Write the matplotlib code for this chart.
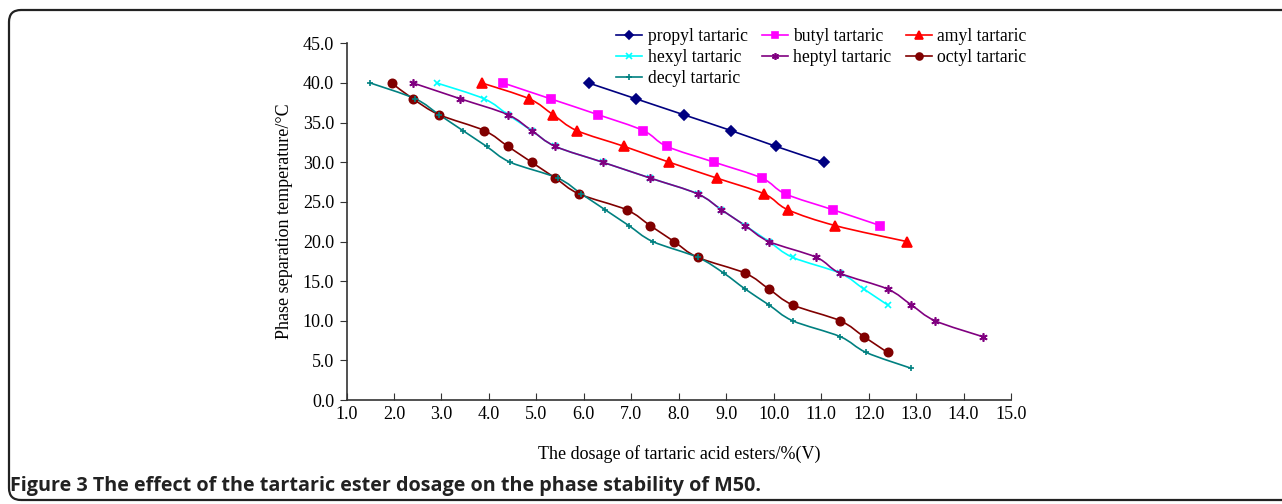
import numpy as np
import matplotlib
matplotlib.use("Agg")
import matplotlib.pyplot as plt
from matplotlib.path import Path
from matplotlib.patches import PathPatch, FancyBboxPatch
from matplotlib.lines import Line2D

plt.rcParams['font.family'] = ['Liberation Serif', 'DejaVu Serif']

# data (dosage %V, phase separation temperature degC)
propyl_x = [6.1, 7.1, 8.1, 9.1, 10.05, 11.05]
propyl_y = [40, 38, 36, 34, 32, 30]
butyl_x = [4.3, 5.3, 6.3, 7.25, 7.75, 8.75, 9.75, 10.25, 11.25, 12.25]
butyl_y = [40, 38, 36, 34, 32, 30, 28, 26, 24, 22]
amyl_x = [3.85, 4.85, 5.35, 5.85, 6.85, 7.8, 8.8, 9.8, 10.3, 11.3, 12.8]
amyl_y = [40, 38, 36, 34, 32, 30, 28, 26, 24, 22, 20]
hexyl_x = [2.9, 3.9, 4.4, 4.9, 5.4, 6.4, 7.4, 8.4, 8.9, 9.4, 9.9, 10.4, 11.4, 11.9, 12.4]
hexyl_y = [40, 38, 36, 34, 32, 30, 28, 26, 24, 22, 20, 18, 16, 14, 12]
heptyl_x = [2.4, 3.4, 4.4, 4.9, 5.4, 6.4, 7.4, 8.4, 8.9, 9.4, 9.9, 10.9, 11.4, 12.4, 12.9, 13.4, 14.4]
heptyl_y = [40, 38, 36, 34, 32, 30, 28, 26, 24, 22, 20, 18, 16, 14, 12, 10, 8]
octyl_x = [1.95, 2.4, 2.95, 3.9, 4.4, 4.9, 5.4, 5.9, 6.9, 7.4, 7.9, 8.4, 9.4, 9.9, 10.4, 11.4, 11.9, 12.4]
octyl_y = [40, 38, 36, 34, 32, 30, 28, 26, 24, 22, 20, 18, 16, 14, 12, 10, 8, 6]
decyl_x = [1.5, 2.45, 2.95, 3.45, 3.95, 4.45, 5.45, 5.95, 6.45, 6.95, 7.45, 8.4, 8.95, 9.4, 9.9, 10.4, 11.4, 11.95, 12.9]
decyl_y = [40, 38, 36, 34, 32, 30, 28, 26, 24, 22, 20, 18, 16, 14, 12, 10, 8, 6, 4]

series = [
    ('propyl tartaric', propyl_x, propyl_y, '#000080', 'D', 5),
    ('butyl tartaric', butyl_x, butyl_y, '#FF00FF', 's', 6),
    ('amyl tartaric', amyl_x, amyl_y, '#FF0000', '^', 7),
    ('hexyl tartaric', hexyl_x, hexyl_y, '#00FFFF', 'x', 5),
    ('heptyl tartaric', heptyl_x, heptyl_y, '#800080', (6, 2, 0), 6),
    ('octyl tartaric', octyl_x, octyl_y, '#800000', 'o', 6),
    ('decyl tartaric', decyl_x, decyl_y, '#008080', '+', 5),
]


def smooth_path(x, y):
    # Excel-like smoothed line: cubic bezier through the points
    pts = np.column_stack([x, y]).astype(float)
    n = len(pts)
    verts = [pts[0]]
    codes = [Path.MOVETO]
    for i in range(n - 1):
        p0 = pts[i - 1] if i > 0 else pts[i]
        p1 = pts[i]
        p2 = pts[i + 1]
        p3 = pts[i + 2] if i + 2 < n else pts[i + 1]
        verts += [p1 + (p2 - p0) / 6, p2 - (p3 - p1) / 6, p2]
        codes += [Path.CURVE4] * 3
    return Path(verts, codes)


fig = plt.figure(figsize=(12.82, 5.04), dpi=100)
ax = fig.add_axes([0.2703, 0.2063, 0.5183, 0.7077])

handles = []
for name, xs, ys, col, mk, ms in series:
    ax.add_patch(PathPatch(smooth_path(xs, ys), fill=False, edgecolor=col, lw=1.2, zorder=2))
    ax.plot(xs, ys, linestyle='none', marker=mk, color=col, markersize=ms,
            markeredgewidth=1.2, zorder=3)
    handles.append(Line2D([], [], color=col, lw=1.2, marker=mk, markersize=ms - 1,
                          markeredgewidth=1.2, label=name))

ax.set_xlim(1, 15)
ax.set_ylim(0, 45)
ax.set_xticks(np.arange(1, 16, 1))
ax.set_yticks(np.arange(0, 46, 5))
ax.xaxis.set_major_formatter(matplotlib.ticker.FormatStrFormatter('%.1f'))
ax.yaxis.set_major_formatter(matplotlib.ticker.FormatStrFormatter('%.1f'))
ax.tick_params(axis='x', direction='in', length=5, labelsize=13, pad=4, color='#333333')
ax.tick_params(axis='y', direction='out', length=5, labelsize=13, pad=4, color='#333333')
for s in ['top', 'right']:
    ax.spines[s].set_visible(False)
for s in ['left', 'bottom']:
    ax.spines[s].set_color('#333333')
    ax.spines[s].set_linewidth(1.2)

ax.set_xlabel('The dosage of tartaric acid esters/%(V)', fontsize=13, labelpad=16)
ax.set_ylabel('Phase separation temperature/\u00b0C', fontsize=13, labelpad=7)

# legend is filled column by column, so order the handles to read row-wise
order = [0, 3, 6, 1, 4, 2, 5]
fig.legend(handles=[handles[i] for i in order], ncol=3, frameon=False, fontsize=12.7,
           loc='upper left', bbox_to_anchor=(616 / 1282, 1 - 28 / 504),
           borderaxespad=0, borderpad=0, handlelength=1.5, handletextpad=0.3,
           columnspacing=0.8, labelspacing=0.22)

fig.text(10 / 1282, 1 - 486 / 504,
         'Figure 3 The effect of the tartaric ester dosage on the phase stability of M50.',
         fontsize=14.2, fontweight='bold', family=['Open Sans', 'DejaVu Sans'],
         ha='left', va='center', color='#222222')

border = FancyBboxPatch((0.09, 0.04), 13.5, 4.90, boxstyle='round,pad=0,rounding_size=0.12',
                        transform=fig.dpi_scale_trans, fill=False, edgecolor='#222222',
                        lw=1.6, clip_on=False)
fig.patches.append(border)

fig.savefig('out.png', dpi=100)
